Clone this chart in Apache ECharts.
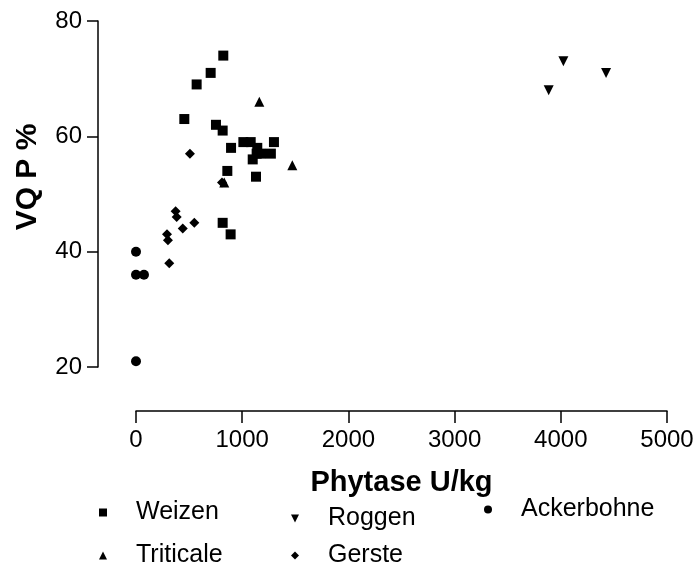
<!DOCTYPE html>
<html>
<head>
<meta charset="utf-8">
<script src="https://cdn.jsdelivr.net/npm/echarts@6/dist/echarts.min.js"></script>
<style>html,body{margin:0;padding:0;background:#fff}#c{width:698px;height:569px}</style>
</head>
<body>
<div id="c"></div>
<script>
var weizenX = [822, 703, 571, 455, 753, 816, 895, 1011, 1080, 1299, 1142, 1136, 1177, 1270, 1099, 860, 1130, 816, 891];
var weizenY = [74, 71, 69, 63, 62, 61, 58, 59, 59, 59, 58, 57, 57, 57, 56, 54, 53, 45, 43];
var triticaleX = [1161, 1472, 831];
var triticaleY = [66, 55, 52];
var roggenX = [4024, 4426, 3886];
var roggenY = [73, 71, 68];
var ackerX = [0, 0, 75, 0];
var ackerY = [40, 36, 36, 21];
var gersteX = [508, 810, 373, 383, 549, 440, 292, 301, 313];
var gersteY = [57, 52, 47, 46, 45, 44, 43, 42, 38];
var xTicks = [0, 1000, 2000, 3000, 4000, 5000];
var yTicks = [20, 40, 60, 80];

function pairs(xs, ys) { return xs.map(function (x, i) { return [x, ys[i]]; }); }

var FONT = 'Arial, "Liberation Sans", sans-serif';
var DOWN_TRI = 'path://M0,0L10,0L5,10Z';
var chart = echarts.init(document.getElementById('c'), null, { renderer: 'canvas' });

function legendAt(name, left, top, icon) {
  var item = { name: name };
  if (icon) item.icon = icon;
  return {
    data: [item], left: left, top: top, padding: 0, orient: 'horizontal',
    itemWidth: 8, itemHeight: 8, itemGap: 0, symbolRotate: 0,
    textStyle: { fontFamily: FONT, fontSize: 25, color: '#000', padding: [0, 0, 0, 24] }
  };
}

function mark(name, symbol, size, xs, ys) {
  return {
    name: name, type: 'scatter', symbol: symbol, symbolSize: size,
    itemStyle: { color: '#000', opacity: 1 },
    emphasis: { disabled: true },
    data: pairs(xs, ys)
  };
}

chart.setOption({
  animation: false,
  backgroundColor: '#fff',
  grid: { left: 136, right: 31, top: 21, bottom: 202, containLabel: false, outerBoundsMode: 'none' },
  xAxis: {
    type: 'value', min: xTicks[0], max: xTicks[xTicks.length - 1], interval: 1000,
    offset: 44,
    name: 'Phytase U/kg', nameLocation: 'middle', nameGap: 57,
    nameTextStyle: { fontFamily: FONT, fontSize: 29, fontWeight: 'bold', color: '#000' },
    axisLine: { show: true, onZero: false, lineStyle: { color: '#000', width: 1.5 } },
    axisTick: { show: true, length: 12, lineStyle: { color: '#000', width: 1.5 } },
    axisLabel: { fontFamily: FONT, fontSize: 24, color: '#000', margin: 17, formatter: function (v) { return String(v); } },
    splitLine: { show: false }
  },
  yAxis: {
    type: 'value', min: yTicks[0], max: yTicks[yTicks.length - 1], interval: 20,
    offset: 38,
    name: 'VQ P %', nameLocation: 'middle', nameGap: 55, nameRotate: 90,
    nameTextStyle: { fontFamily: FONT, fontSize: 30, fontWeight: 'bold', color: '#000', padding: [0, 0, 0, 34] },
    axisLine: { show: true, onZero: false, lineStyle: { color: '#000', width: 1.5 } },
    axisTick: { show: true, length: 11, lineStyle: { color: '#000', width: 1.5 } },
    axisLabel: { fontFamily: FONT, fontSize: 24, color: '#000', margin: 16, formatter: function (v) { return String(v); } },
    splitLine: { show: false }
  },
  legend: [
    legendAt('Weizen', 99, 500),
    legendAt('Triticale', 99, 543),
    legendAt('Roggen', 291, 506, DOWN_TRI),
    legendAt('Gerste', 291, 543),
    legendAt('Ackerbohne', 484, 497)
  ],
  series: [
    mark('Weizen', 'rect', 10, weizenX, weizenY),
    mark('Roggen', DOWN_TRI, 10, roggenX, roggenY),
    mark('Ackerbohne', 'circle', 10, ackerX, ackerY),
    mark('Triticale', 'triangle', 10, triticaleX, triticaleY),
    mark('Gerste', 'diamond', 10, gersteX, gersteY)
  ]
});
</script>
</body>
</html>
